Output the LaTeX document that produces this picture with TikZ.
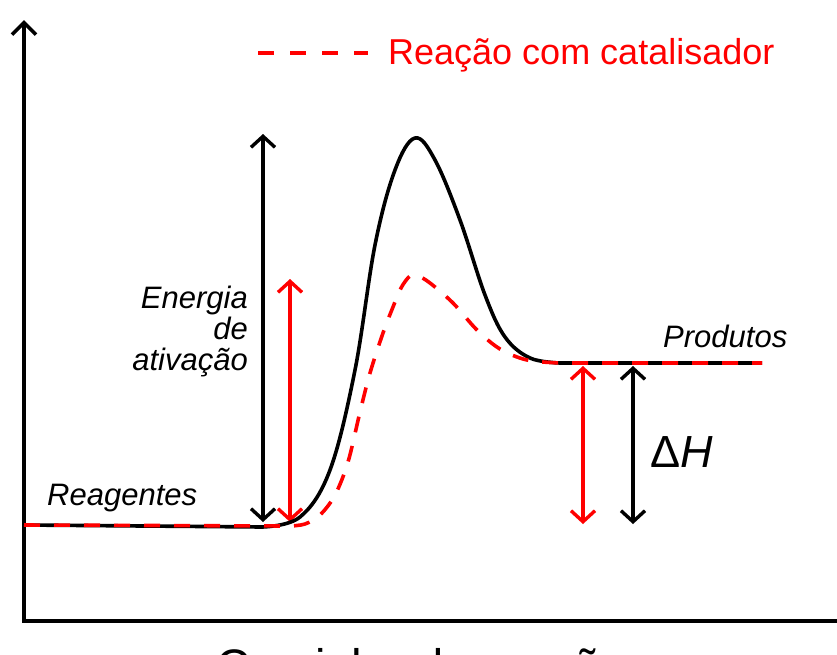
\documentclass[tikz,border=0pt]{standalone}
\usepackage{fontspec}
\setmainfont{Liberation Sans}
\usetikzlibrary{arrows.meta, positioning}
\definecolor{catred}{RGB}{255, 0, 0}

\begin{document}
\begin{tikzpicture}[
  x=1pt, y=-1pt,
  curve/.style={line width=3.6pt, line join=round},
  catcurve/.style={curve, catred, dash pattern=on 16pt off 14pt},
  enarrow/.style={line width=3.4pt, {Straight Barb[length=11pt, width=24pt]}-{Straight Barb[length=11pt, width=24pt]}},
  lbl/.style={inner sep=0pt, font=\fontsize{31}{31}\selectfont\itshape}
]
  \useasboundingbox (0,0) rectangle (837,654);

  % Axes
  \coordinate (ytip) at (24,20);
  \coordinate (origin) at (24,621);
  \coordinate (xend) at (860,621);
  \draw[line width=3.6pt, {Straight Barb[length=12pt, width=24pt]}-] (ytip) -- (origin) -- (xend);
  \node[anchor=base west, inner sep=0pt, font=\fontsize{47}{47}\selectfont] (xlabel) at (216,682) {Caminho da reação};

  % Energy arrows
  \coordinate (eaTop) at (263,134);
  \coordinate (eaBot) at (263,522);
  \coordinate (ecTop) at (290,279);
  \coordinate (ecBot) at (290,522);
  \coordinate (dhcTop) at (583,366);
  \coordinate (dhcBot) at (583,524);
  \coordinate (dhTop) at (633,366);
  \coordinate (dhBot) at (633,524);
  \draw[enarrow] (eaTop) -- (eaBot);
  \draw[enarrow, catred] (ecTop) -- (ecBot);
  \draw[enarrow, catred] (dhcTop) -- (dhcBot);
  \draw[enarrow] (dhTop) -- (dhBot);

  % Curves
  \draw[curve] (24,525) -- (262,527) -- plot[smooth, tension=0.6] coordinates {(262,527) (300,517) (330,470) (355,370) (375,245) (395,170) (415,138) (435,160) (460,220) (485,295) (505,337) (530,358) (560,363)} -- (762,363);
  \draw[catcurve] (24,525) -- (290,526) -- plot[smooth, tension=0.55] coordinates {(290,526) (305,524) (320,515) (335,495) (348,462) (360,412) (370,373) (383,333) (393,307) (401,288) (410,276) (418,276) (430,283) (453,303) (477,330) (500,349) (527,360) (560,363)} -- (762,363);

  % Labels
  \node[lbl, anchor=base west] (reag) at (47,505) {Reagentes};
  \node[lbl, anchor=base west] (prod) at (663,347) {Produtos};
  \node[lbl, anchor=north east, align=right] (eatext) at (248,286) {Energia\\de\\ativação};
  \node[anchor=base west, inner sep=0pt, font=\fontsize{45}{45}\selectfont] (dh) at (650,467) {Δ\textit{H}};

  % Legend
  \coordinate (legA) at (258,53);
  \coordinate (legB) at (368,53);
  \draw[catcurve, dash pattern=on 16pt off 16pt] (legA) -- (legB);
  \node[anchor=base west, inner sep=0pt, text=catred, font=\fontsize{36}{36}\selectfont] (legtext) at (388,64) {Reação com catalisador};
\end{tikzpicture}
\end{document}
